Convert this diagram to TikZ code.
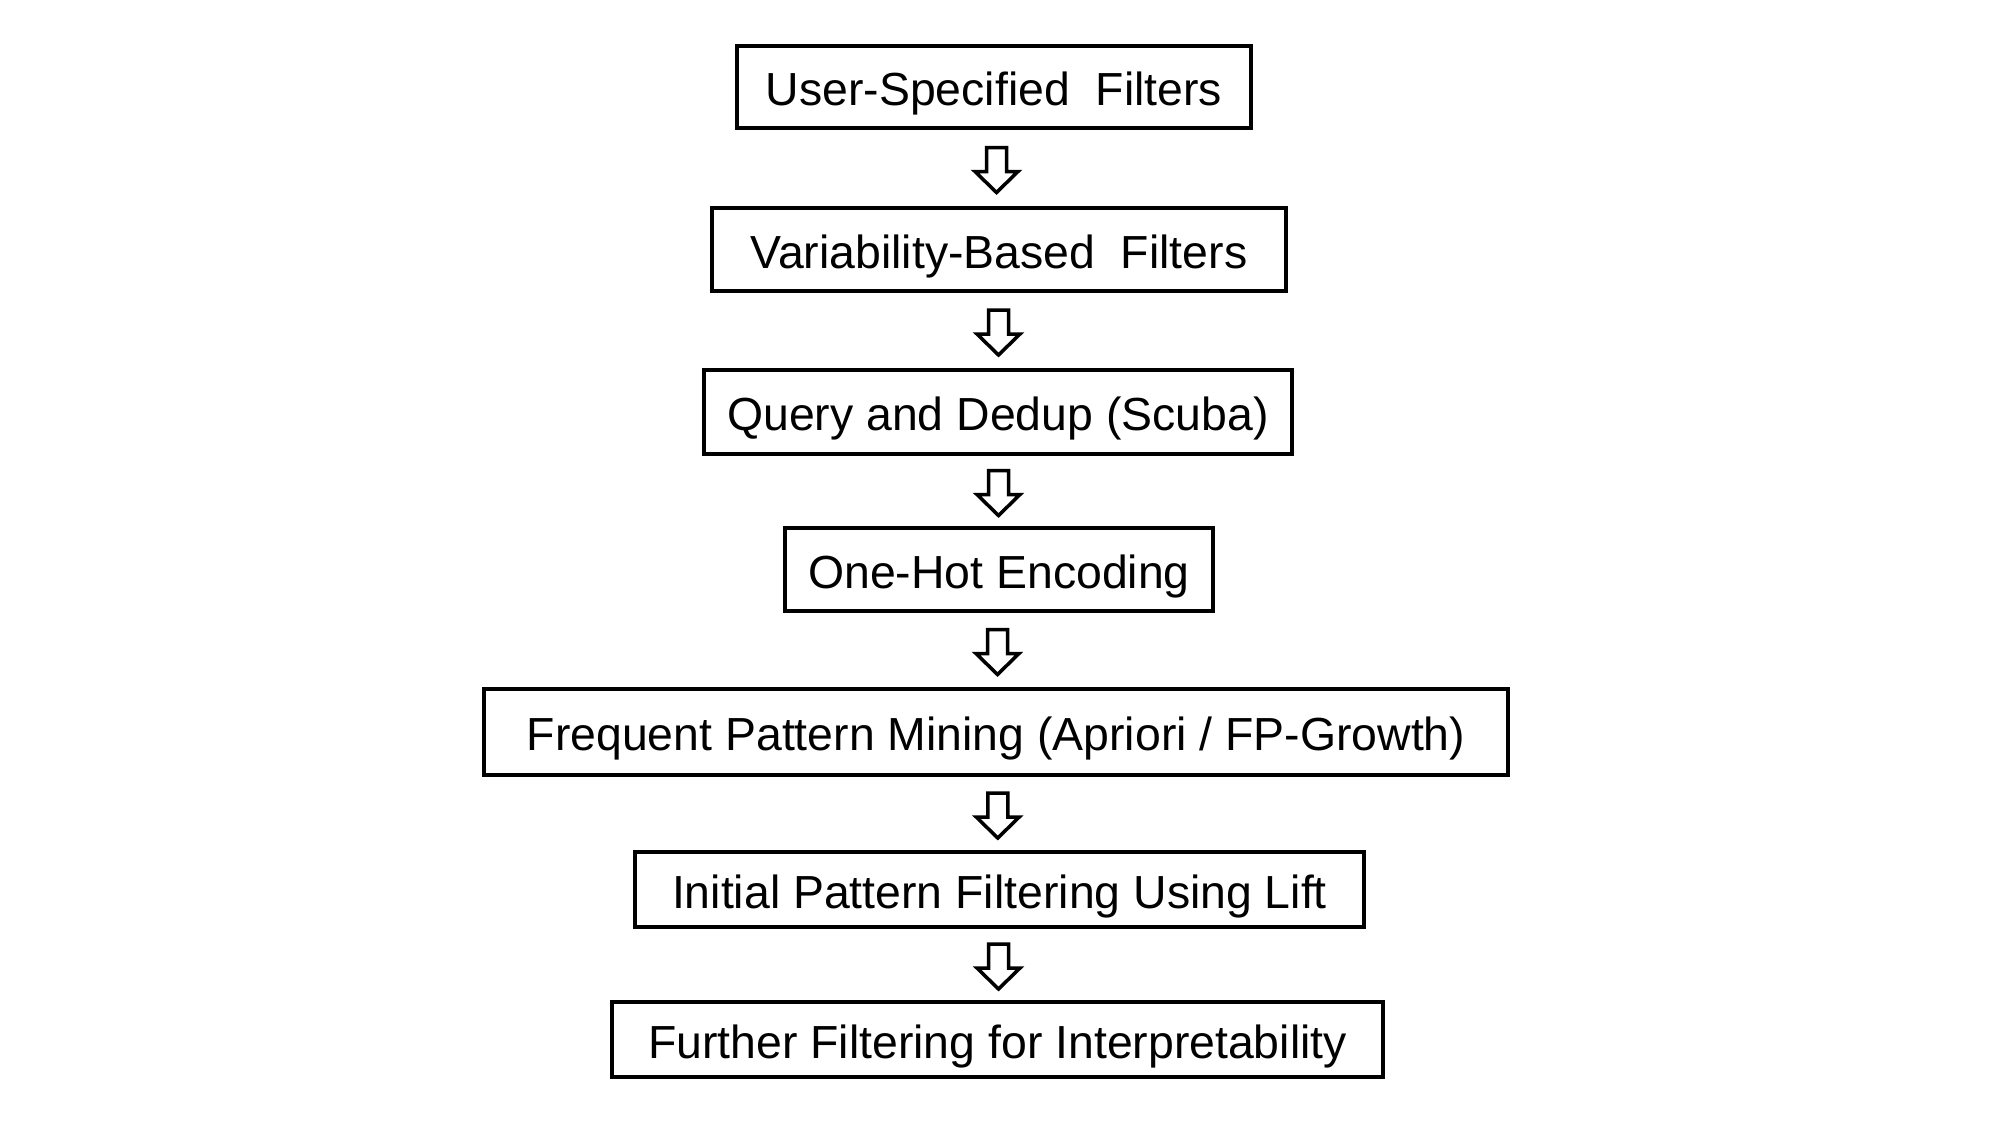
\documentclass[tikz,border=0pt]{standalone}
\usepackage{fontspec}
\setmainfont{Liberation Sans}
\usetikzlibrary{calc}

\tikzset{
  stage/.style={draw, line width=1pt, inner sep=0pt, text height=12pt, text depth=1.4pt,
    font=\fontsize{13.2}{15}\selectfont},
  flow/.style={draw, line width=1pt, line join=miter}
}

\begin{document}
\begin{tikzpicture}
    \useasboundingbox (0, 0) rectangle (20, -11.25);

    \node[stage, minimum width=5.14cm, minimum height=0.82cm] (usf) at (9.94, -0.87) {User-Specified\ \ Filters};
    \node[stage, minimum width=5.74cm, minimum height=0.83cm] (vbf) at (9.99, -2.495) {Variability-Based\ \ Filters};
    \node[stage, minimum width=5.88cm, minimum height=0.84cm] (qdd) at (9.98, -4.12) {Query and Dedup (Scuba)};
    \node[stage, minimum width=4.28cm, minimum height=0.83cm] (ohe) at (9.99, -5.695) {One-Hot Encoding};
    \node[stage, minimum width=10.24cm, minimum height=0.86cm] (fpm) at (9.96, -7.32) {Frequent Pattern Mining (Apriori / FP-Growth)};
    \node[stage, minimum width=7.29cm, minimum height=0.75cm] (ipf) at (9.995, -8.895) {Initial Pattern Filtering Using Lift};
    \node[stage, minimum width=7.71cm, minimum height=0.75cm] (ffi) at (9.975, -10.395) {Further Filtering for Interpretability};

    % hollow block arrows between the stages
    \foreach \a/\b in {usf/vbf, vbf/qdd, qdd/ohe, ohe/fpm, fpm/ipf, ipf/ffi} {
      \coordinate (\a-\b) at ($(\a.south)!0.5!(\b.north)$);
      \draw[flow] ($(\a-\b)+(-0.1, 0.205)$) -- ++(0.2, 0) -- ++(0, -0.24)
        -- ++(0.115, 0) -- ++(-0.215, -0.21) -- ++(-0.215, 0.21) -- ++(0.115, 0) -- cycle;
    }
\end{tikzpicture}
\end{document}
